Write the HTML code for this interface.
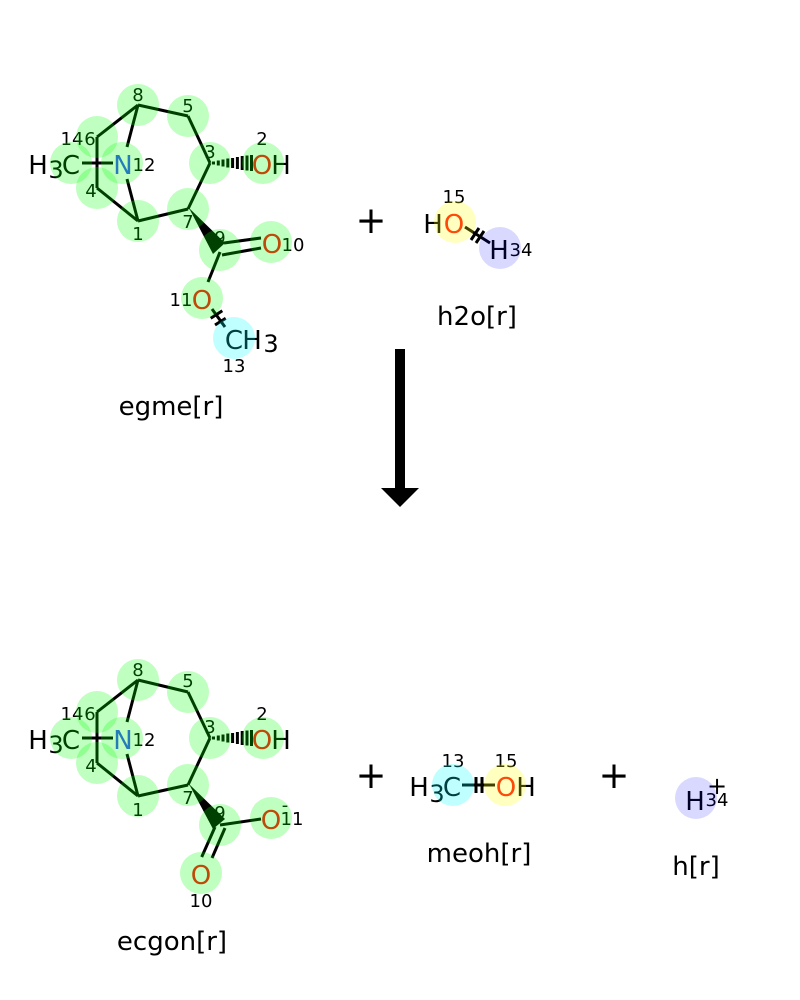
<!DOCTYPE html>
<html><head><meta charset="utf-8"><style>
html,body{margin:0;padding:0;background:#fff}
svg{display:block}
text{font-family:"DejaVu Sans",sans-serif;text-anchor:middle;fill:#000}
.a{font-size:26px}.s{font-size:24px}.n{font-size:18px}.l{font-size:26px}
.O{fill:#FF0D0D}.N{fill:#3050F8}
line{stroke:#000;stroke-width:3}
.g{fill:#0f0;fill-opacity:.25}.c{fill:#0ff;fill-opacity:.25}.y{fill:#ff0;fill-opacity:.25}.b{fill:#00f;fill-opacity:.15}
</style></head><body>
<svg width="800" height="1000" viewBox="0 0 800 1000" xmlns="http://www.w3.org/2000/svg">
<rect width="800" height="1000" fill="#fff"/>

<!-- top-left molecule -->
<g>
<line x1="138" y1="105" x2="188" y2="116"/><line x1="188" y1="116" x2="210" y2="163"/><line x1="210" y1="163" x2="188" y2="209"/><line x1="188" y1="209" x2="138" y2="221"/><line x1="138" y1="221" x2="97" y2="188"/><line x1="97" y1="188" x2="97" y2="137"/><line x1="97" y1="137" x2="138" y2="105"/>
<line x1="138" y1="105" x2="127" y2="147"/><line x1="138" y1="221" x2="127" y2="179"/><line x1="82" y1="163" x2="113" y2="163"/>
<polygon points="189,208 213,254 225,243" fill="#000"/>
<line x1="213.5" y1="161.5" x2="213.5" y2="164.5"/><line x1="218.3" y1="160.5" x2="218.3" y2="165.5"/><line x1="223" y1="159.5" x2="223" y2="166.5"/><line x1="227.8" y1="158.5" x2="227.8" y2="167.5"/><line x1="232.6" y1="158" x2="232.6" y2="168"/><line x1="237.4" y1="157" x2="237.4" y2="169"/><line x1="242.2" y1="156" x2="242.2" y2="170"/><line x1="247" y1="155.5" x2="247" y2="170.5"/><line x1="251.5" y1="155" x2="251.5" y2="171"/>
<line x1="224" y1="243" x2="261" y2="238"/><line x1="222" y1="255" x2="261" y2="248"/>
<line x1="220" y1="252" x2="208" y2="282"/>
<line x1="212" y1="309" x2="225" y2="327"/><line x1="210.7" y1="318.3" x2="222.3" y2="310.7"/><line x1="215" y1="325" x2="225.7" y2="318.3"/>
<text class="a" x="38" y="174">H</text><text class="s" x="56" y="178">3</text><text class="a" x="71" y="174">C</text>
<text class="a N" x="123" y="174">N</text>
<text class="a O" x="262" y="174">O</text><text class="a" x="281" y="174">H</text>
<text class="a O" x="272" y="253">O</text><text class="a O" x="202" y="309">O</text>
<text class="a" x="234" y="349">C</text><text class="a" x="252" y="349">H</text><text class="s" x="271" y="352">3</text>
<text class="n" x="138" y="101">8</text><text class="n" x="188" y="112">5</text><text class="n" x="210" y="158">3</text><text class="n" x="188" y="228">7</text><text class="n" x="138" y="240">1</text><text class="n" x="91" y="197">4</text><text class="n" x="90" y="145">6</text><text class="n" x="72" y="145">14</text><text class="n" x="144" y="171">12</text><text class="n" x="262" y="145">2</text><text class="n" x="293" y="251">10</text><text class="n" x="181" y="306">11</text><text class="n" x="234" y="372">13</text><text class="n" x="220" y="244">9</text>
<circle class="g" cx="138" cy="105" r="21"/><circle class="g" cx="188" cy="116" r="21"/><circle class="g" cx="210" cy="163" r="21"/><circle class="g" cx="188" cy="209" r="21"/><circle class="g" cx="138" cy="221" r="21"/><circle class="g" cx="97" cy="188" r="21"/><circle class="g" cx="97" cy="137" r="21"/><circle class="g" cx="122" cy="163" r="21"/><circle class="g" cx="71" cy="163" r="21"/><circle class="g" cx="263" cy="163" r="21"/><circle class="g" cx="220" cy="250" r="21"/><circle class="g" cx="271" cy="242" r="21"/><circle class="g" cx="202" cy="298" r="21"/><circle class="c" cx="234" cy="338" r="21"/>
</g>

<!-- bottom-left molecule -->
<g>
<line x1="138" y1="680" x2="188" y2="692"/><line x1="188" y1="692" x2="210" y2="738"/><line x1="210" y1="738" x2="188" y2="785"/><line x1="188" y1="785" x2="138" y2="796"/><line x1="138" y1="796" x2="97" y2="763"/><line x1="97" y1="763" x2="97" y2="712"/><line x1="97" y1="712" x2="138" y2="680"/>
<line x1="138" y1="680" x2="127" y2="722"/><line x1="138" y1="796" x2="127" y2="754"/><line x1="82" y1="738" x2="113" y2="738"/>
<polygon points="189,784 213,829 225,819" fill="#000"/>
<line x1="213.5" y1="736.5" x2="213.5" y2="739.5"/><line x1="218.3" y1="735.5" x2="218.3" y2="740.5"/><line x1="223" y1="734.5" x2="223" y2="741.5"/><line x1="227.8" y1="733.5" x2="227.8" y2="742.5"/><line x1="232.6" y1="733" x2="232.6" y2="743"/><line x1="237.4" y1="732" x2="237.4" y2="744"/><line x1="242.2" y1="731" x2="242.2" y2="745"/><line x1="247" y1="730.5" x2="247" y2="745.5"/><line x1="251.5" y1="730" x2="251.5" y2="746"/>
<line x1="215" y1="827" x2="201.7" y2="857"/><line x1="225" y1="828" x2="212" y2="858"/>
<line x1="220" y1="825" x2="261" y2="819"/>
<text class="a" x="38" y="749">H</text><text class="s" x="56" y="753">3</text><text class="a" x="71" y="749">C</text>
<text class="a N" x="123" y="749">N</text>
<text class="a O" x="262" y="749">O</text><text class="a" x="281" y="749">H</text>
<text class="a O" x="271" y="829">O</text><text class="a O" x="201" y="884">O</text>
<text class="n" x="138" y="676">8</text><text class="n" x="188" y="687">5</text><text class="n" x="210" y="733">3</text><text class="n" x="188" y="804">7</text><text class="n" x="138" y="816">1</text><text class="n" x="91" y="772">4</text><text class="n" x="90" y="720">6</text><text class="n" x="72" y="720">14</text><text class="n" x="144" y="746">12</text><text class="n" x="262" y="720">2</text><text class="n" x="292" y="825">11</text><text class="n" x="285" y="811">-</text><text class="n" x="201" y="907">10</text><text class="n" x="220" y="819">9</text>
<circle class="g" cx="138" cy="680" r="21"/><circle class="g" cx="188" cy="692" r="21"/><circle class="g" cx="210" cy="738" r="21"/><circle class="g" cx="188" cy="785" r="21"/><circle class="g" cx="138" cy="796" r="21"/><circle class="g" cx="97" cy="763" r="21"/><circle class="g" cx="97" cy="712" r="21"/><circle class="g" cx="122" cy="738" r="21"/><circle class="g" cx="71" cy="738" r="21"/><circle class="g" cx="263" cy="738" r="21"/><circle class="g" cx="220" cy="825" r="21"/><circle class="g" cx="271" cy="818" r="21"/><circle class="g" cx="201" cy="873" r="21"/>
</g>

<!-- water -->
<g>
<line x1="465" y1="227" x2="490" y2="243"/><line x1="471" y1="240" x2="479" y2="228"/><line x1="476" y1="243" x2="484" y2="231"/>
<text class="a" x="433" y="233">H</text><text class="a O" x="454" y="233">O</text><text class="n" x="454" y="203">15</text><text class="a" x="499" y="259">H</text><text class="n" x="521" y="256">34</text>
<circle class="y" cx="455" cy="222" r="21"/><circle class="b" cx="500" cy="248" r="21"/>
</g>

<!-- methanol -->
<g>
<line x1="462" y1="785" x2="495" y2="785"/><line x1="476" y1="777" x2="476" y2="793"/><line x1="482" y1="777" x2="482" y2="793"/>
<text class="a" x="419" y="796">H</text><text class="s" x="437" y="802">3</text><text class="a" x="452" y="796">C</text><text class="a O" x="506" y="796">O</text><text class="a" x="526" y="796">H</text><text class="n" x="453" y="767">13</text><text class="n" x="506" y="767">15</text>
<circle class="c" cx="453" cy="785" r="21"/><circle class="y" cx="505" cy="785" r="21"/>
</g>

<!-- proton -->
<g>
<text class="a" x="695" y="810">H</text><text class="n" x="717" y="806">34</text><text x="717" y="794" style="font-size:24px">+</text>
<circle class="b" cx="696" cy="798" r="21"/>
</g>

<!-- plus signs -->
<text x="371" y="233" style="font-size:37px">+</text>
<text x="371" y="788" style="font-size:37px">+</text>
<text x="614" y="788" style="font-size:37px">+</text>

<!-- arrow -->
<rect x="395" y="349" width="10" height="140" fill="#000"/>
<polygon points="381,488 419,488 400,507" fill="#000"/>

<!-- labels -->
<text class="l" x="171" y="415">egme[r]</text>
<text class="l" x="477" y="325">h2o[r]</text>
<text class="l" x="172" y="950">ecgon[r]</text>
<text class="l" x="479" y="862">meoh[r]</text>
<text class="l" x="696" y="875">h[r]</text>
</svg>
</body></html>
